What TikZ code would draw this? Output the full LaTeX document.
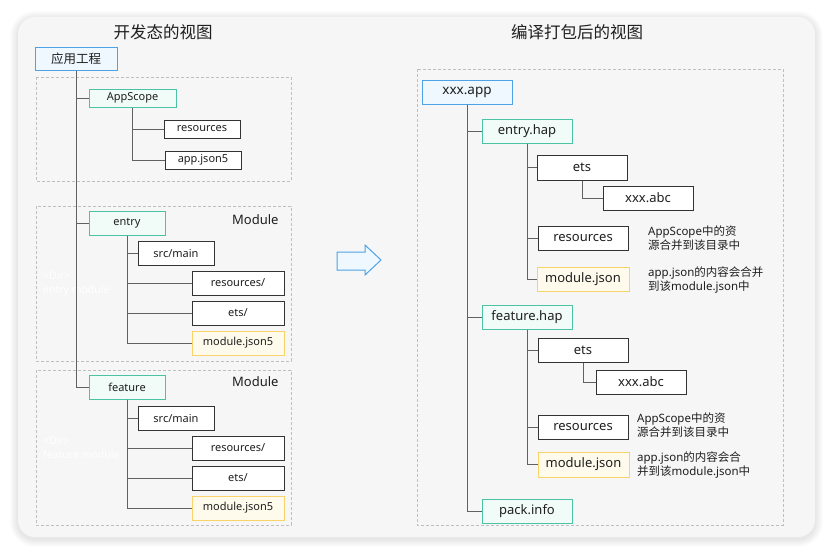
\documentclass[tikz,border=0pt]{standalone}
\usepackage{fontspec}
\setmainfont{Noto Sans CJK SC}
\newfontfamily\lat{Noto Sans}
\begin{document}
\begin{tikzpicture}[x=1pt,y=-1pt,
  base/.style={draw, rectangle, inner sep=0pt, line width=1pt, text=black!88},
  blueb/.style={base, draw=cBlue, fill=cBlueF},
  greenb/.style={base, draw=cGreen, fill=cGreenF},
  darkb/.style={base, draw=black!80, fill=white},
  yellowb/.style={base, draw=cYellow, fill=cYellowF},
  lfont/.style={font=\lat\fontsize{11}{13}\selectfont},
  rfont/.style={font=\lat\fontsize{13}{15}\selectfont},
  conn/.style={draw=black!62, line width=0.9pt},
  dashbox/.style={draw=black!25, line width=0.8pt, dash pattern=on 3pt off 2pt},
  note/.style={anchor=west, align=left, inner sep=0pt, font=\fontsize{11.5}{14.5}\selectfont, text=black!88},
  ghost/.style={anchor=west, align=left, inner sep=0pt, font=\lat\fontsize{10.5}{14}\selectfont, text=white}
]
\definecolor{cBlue}{HTML}{4EA3E6}
\definecolor{cBlueF}{HTML}{EEF8FE}
\definecolor{cGreen}{HTML}{4CC4A4}
\definecolor{cGreenF}{HTML}{F1FBF7}
\definecolor{cYellow}{HTML}{F8D369}
\definecolor{cYellowF}{HTML}{FFFBEC}
\definecolor{cBg}{HTML}{F6F6F6}
\useasboundingbox (0,0) rectangle (834,554);
\fill[white] (0,0) rectangle (834,554);
% shadow
\foreach \i in {1,...,8}{
  \fill[black, opacity=0.012, rounded corners=17+\i] (18-\i,17-\i+2) rectangle (815+\i,537+\i+2);
}
\fill[cBg, rounded corners=17] (18,17) rectangle (815,537);

% titles
\node[font=\fontsize{16.5}{18}\selectfont, text=black!88] (t1) at (163,32) {开发态的视图};
\node[font=\fontsize{16.5}{18}\selectfont, text=black!88] (t2) at (577,32) {编译打包后的视图};

% left dashed boxes
\draw[dashbox] (36,77) rectangle (291,181);
\draw[dashbox] (36,206) rectangle (291,361);
\draw[dashbox] (36,370) rectangle (291,525);

% ghost texts
\node[ghost] (g1) at (43,284) {<Dir>\\entry module};
\node[ghost] (g2) at (43,448) {<Dir>\\feature module};

\node[font=\lat\fontsize{13}{16}\selectfont, text=black!88, anchor=east] (m1) at (282,220) {Module};
\node[font=\lat\fontsize{13}{16}\selectfont, text=black!88, anchor=east] (m2) at (282,382) {Module};

% left nodes
\node[blueb, font=\fontsize{12.5}{14}\selectfont, minimum width=82pt, minimum height=23pt] (app) at (76,58.5) {应用工程};
\node[greenb, lfont, minimum width=87pt, minimum height=18pt] (scope) at (132.5,98) {AppScope};
\node[darkb, lfont, minimum width=76pt, minimum height=18pt] (sres) at (202,129) {resources};
\node[darkb, lfont, minimum width=76pt, minimum height=18pt] (sjson) at (203,160) {app.json5};

\node[greenb, lfont, minimum width=76pt, minimum height=24pt] (entry) at (127,223) {entry};
\node[darkb, lfont, minimum width=76pt, minimum height=24pt] (esrc) at (176,253) {src/main};
\node[darkb, lfont, minimum width=92pt, minimum height=24pt] (eres) at (238,283) {resources/};
\node[darkb, lfont, minimum width=92pt, minimum height=24pt] (eets) at (238,313) {ets/};
\node[yellowb, lfont, minimum width=92pt, minimum height=24pt] (emod) at (238,343) {module.json5};

\node[greenb, lfont, minimum width=76pt, minimum height=24pt] (feat) at (127,387) {feature};
\node[darkb, lfont, minimum width=76pt, minimum height=24pt] (fsrc) at (176,418) {src/main};
\node[darkb, lfont, minimum width=92pt, minimum height=24pt] (fres) at (238,448) {resources/};
\node[darkb, lfont, minimum width=92pt, minimum height=24pt] (fets) at (238,478) {ets/};
\node[yellowb, lfont, minimum width=92pt, minimum height=24pt] (fmod) at (238,508) {module.json5};

% left connectors
\draw[conn] (app.south) |- (scope.west);
\draw[conn] (app.south) |- (entry.west);
\draw[conn] (app.south) |- (feat.west);
\draw[conn] (scope.south) |- (sres.west);
\draw[conn] (scope.south) |- (sjson.west);
\draw[conn] (entry.south) |- (esrc.west);
\draw[conn] (entry.south) |- (eres.west);
\draw[conn] (entry.south) |- (eets.west);
\draw[conn] (entry.south) |- (emod.west);
\draw[conn] (feat.south) |- (fsrc.west);
\draw[conn] (feat.south) |- (fres.west);
\draw[conn] (feat.south) |- (fets.west);
\draw[conn] (feat.south) |- (fmod.west);

% arrow
\draw[draw=cBlue, fill=cBlueF, line width=1pt, line join=miter] (337,252) -- (365,252) -- (365,245) -- (381,260) -- (365,275) -- (365,270) -- (337,270) -- cycle;

% right dashed box
\draw[dashbox] (417,69) rectangle (783,525);

% right nodes
\node[blueb, font=\lat\fontsize{13.5}{15}\selectfont, minimum width=90pt, minimum height=24pt] (xapp) at (467,92) {xxx.app};
\node[greenb, rfont, minimum width=90pt, minimum height=24pt] (ehap) at (527,131) {entry.hap};
\node[darkb, rfont, minimum width=90pt, minimum height=25pt] (eets2) at (582,167.5) {ets};
\node[darkb, rfont, minimum width=90pt, minimum height=24pt] (eabc) at (648,198) {xxx.abc};
\node[darkb, rfont, minimum width=90pt, minimum height=24pt] (eres2) at (583,238) {resources};
\node[yellowb, rfont, minimum width=92pt, minimum height=24pt] (emod2) at (583,279) {module.json};

\node[greenb, rfont, minimum width=90pt, minimum height=24pt] (fhap) at (527,317) {feature.hap};
\node[darkb, rfont, minimum width=90pt, minimum height=24pt] (fets2) at (583,350) {ets};
\node[darkb, rfont, minimum width=90pt, minimum height=24pt] (fabc) at (641,382) {xxx.abc};
\node[darkb, rfont, minimum width=90pt, minimum height=24pt] (fres2) at (583,427) {resources};
\node[yellowb, rfont, minimum width=91pt, minimum height=25pt] (fmod2) at (583.5,464.5) {module.json};
\node[greenb, rfont, minimum width=90pt, minimum height=24pt] (pack) at (527,511) {pack.info};

% right connectors
\draw[conn] (xapp.south) |- (ehap.west);
\draw[conn] (xapp.south) |- (fhap.west);
\draw[conn] (xapp.south) |- (pack.west);
\draw[conn] (ehap.south) |- (eets2.west);
\draw[conn] (ehap.south) |- (eres2.west);
\draw[conn] (ehap.south) |- (emod2.west);
\draw[conn] (eets2.south) |- (eabc.west);
\draw[conn] (fhap.south) |- (fets2.west);
\draw[conn] (fhap.south) |- (fres2.west);
\draw[conn] (fhap.south) |- (fmod2.west);
\draw[conn] (fets2.south) |- (fabc.west);

% notes
\node[note] (n1) at (648,238) {{\lat AppScope}中的资\\源合并到该目录中};
\node[note] (n2) at (648,280) {{\lat app.json}的内容会合并\\到该{\lat module.json}中};
\node[note] (n3) at (637,425) {{\lat AppScope}中的资\\源合并到该目录中};
\node[note] (n4) at (637,465) {{\lat app.json}的内容会合\\并到该{\lat module.json}中};
\end{tikzpicture}
\end{document}
